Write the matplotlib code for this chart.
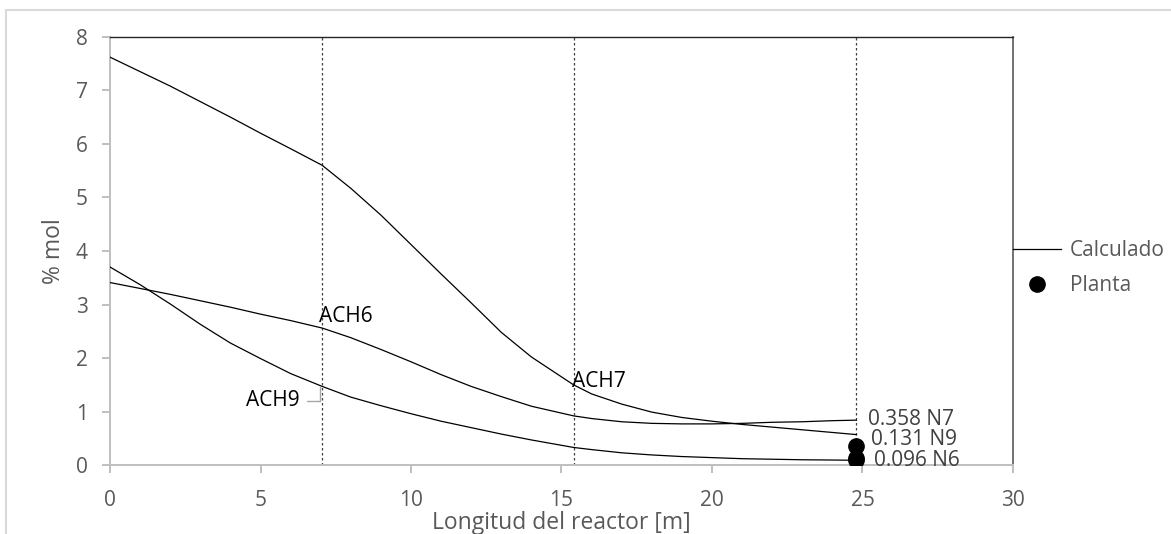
import matplotlib
matplotlib.use('Agg')
import matplotlib.pyplot as plt
from matplotlib.patches import Rectangle

plt.rcParams['font.family'] = ['Open Sans', 'DejaVu Sans']

# Longitud del reactor [m]
longitud = [0, 1, 2, 3, 4, 5, 6, 7.05, 8, 9, 10, 11, 12, 13, 14, 15.4,
            16, 17, 18, 19, 20, 21, 22, 23, 24, 24.8]

# % mol calculado
ach7 = [7.62, 7.35, 7.08, 6.79, 6.50, 6.20, 5.91, 5.60, 5.17, 4.67, 4.12, 3.57,
        3.03, 2.48, 2.02, 1.50, 1.33, 1.14, 0.99, 0.89, 0.82, 0.76, 0.71, 0.66,
        0.61, 0.57]
ach6 = [3.41, 3.30, 3.19, 3.07, 2.95, 2.82, 2.70, 2.56, 2.38, 2.16, 1.93, 1.69,
        1.47, 1.28, 1.10, 0.92, 0.87, 0.81, 0.78, 0.77, 0.77, 0.78, 0.80, 0.81,
        0.83, 0.84]
ach9 = [3.70, 3.37, 3.01, 2.63, 2.28, 1.99, 1.71, 1.47, 1.27, 1.11, 0.96, 0.82,
        0.70, 0.58, 0.47, 0.33, 0.29, 0.23, 0.19, 0.16, 0.14, 0.12, 0.11, 0.10,
        0.095, 0.09]

# datos de planta
planta_x = [24.8, 24.8, 24.8]
planta_y = [0.358, 0.131, 0.096]
planta_lbl = ['0.358 N7', '0.131 N9', '0.096 N6']

# lechos
lechos = [7.05, 15.4, 24.8]

fig = plt.figure(figsize=(11.71, 5.34), dpi=100)
ax = fig.add_axes([0.094, 0.129, 0.771, 0.802])

for l in lechos:
    ax.axvline(l, color='#404040', lw=0.9, ls=(0, (2, 2)), zorder=1)

ax.plot(longitud, ach7, color='black', lw=0.9, label='Calculado', zorder=3)
ax.plot(longitud, ach6, color='black', lw=0.9, zorder=3)
ax.plot(longitud, ach9, color='black', lw=0.9, zorder=3)
ax.plot(planta_x, planta_y, 'o', color='black', ms=11, label='Planta', zorder=4)

# etiquetas
ax.text(6.94, 2.78, 'ACH6', fontsize=15, va='center', ha='left', color='black')
ax.text(15.34, 1.56, 'ACH7', fontsize=15, va='center', ha='left', color='black')
ax.annotate('ACH9', xy=(6.98, 1.45), xytext=(6.31, 1.20), fontsize=15,
            va='center', ha='right', color='black',
            arrowprops=dict(arrowstyle='-', color='#a6a6a6', lw=1,
                            connectionstyle='angle,angleA=0,angleB=90,rad=0',
                            shrinkA=3, shrinkB=0))

lbl_pos = [(25.2, 0.85), (25.3, 0.47), (25.4, 0.084)]
for (tx, ty), t in zip(lbl_pos, planta_lbl):
    ax.text(tx, ty, t, fontsize=15, va='center', ha='left', color='#404040')

ax.set_xlim(0, 30)
ax.set_ylim(0, 8)
ax.set_xticks(range(0, 31, 5))
ax.set_yticks(range(0, 9))

ax.set_xlabel('Longitud del reactor [m]', fontsize=16.5, color='#595959')
ax.xaxis.label.set_va('center')
ax.xaxis.set_label_coords(0.5, -0.135)
ax.set_ylabel('% mol', fontsize=16.5, color='#595959', labelpad=7)

for s in ['left', 'bottom']:
    ax.spines[s].set_color('#bfbfbf')
    ax.spines[s].set_linewidth(1.4)
ax.spines['top'].set_color('#262626')
ax.spines['top'].set_linewidth(1.0)
ax.spines['right'].set_color('#595959')
ax.spines['right'].set_linewidth(1.2)

ax.tick_params(axis='both', colors='#bfbfbf', labelcolor='#595959',
               labelsize=15, width=1.4, length=6, direction='out')
ax.tick_params(axis='x', pad=12)
ax.tick_params(axis='y', pad=10)

ax.legend(loc='center left', bbox_to_anchor=(1.0, 0.46), frameon=False,
          fontsize=15, borderaxespad=0, borderpad=0, handlelength=2.3,
          handletextpad=0.45, labelspacing=0.7, labelcolor='#595959')

fig.patches.append(Rectangle((0.005, -0.1), 1.2, 1.081, transform=fig.transFigure,
                             fill=False, edgecolor='#d9d9d9', lw=1.5))

fig.savefig('out.png', dpi=100)
